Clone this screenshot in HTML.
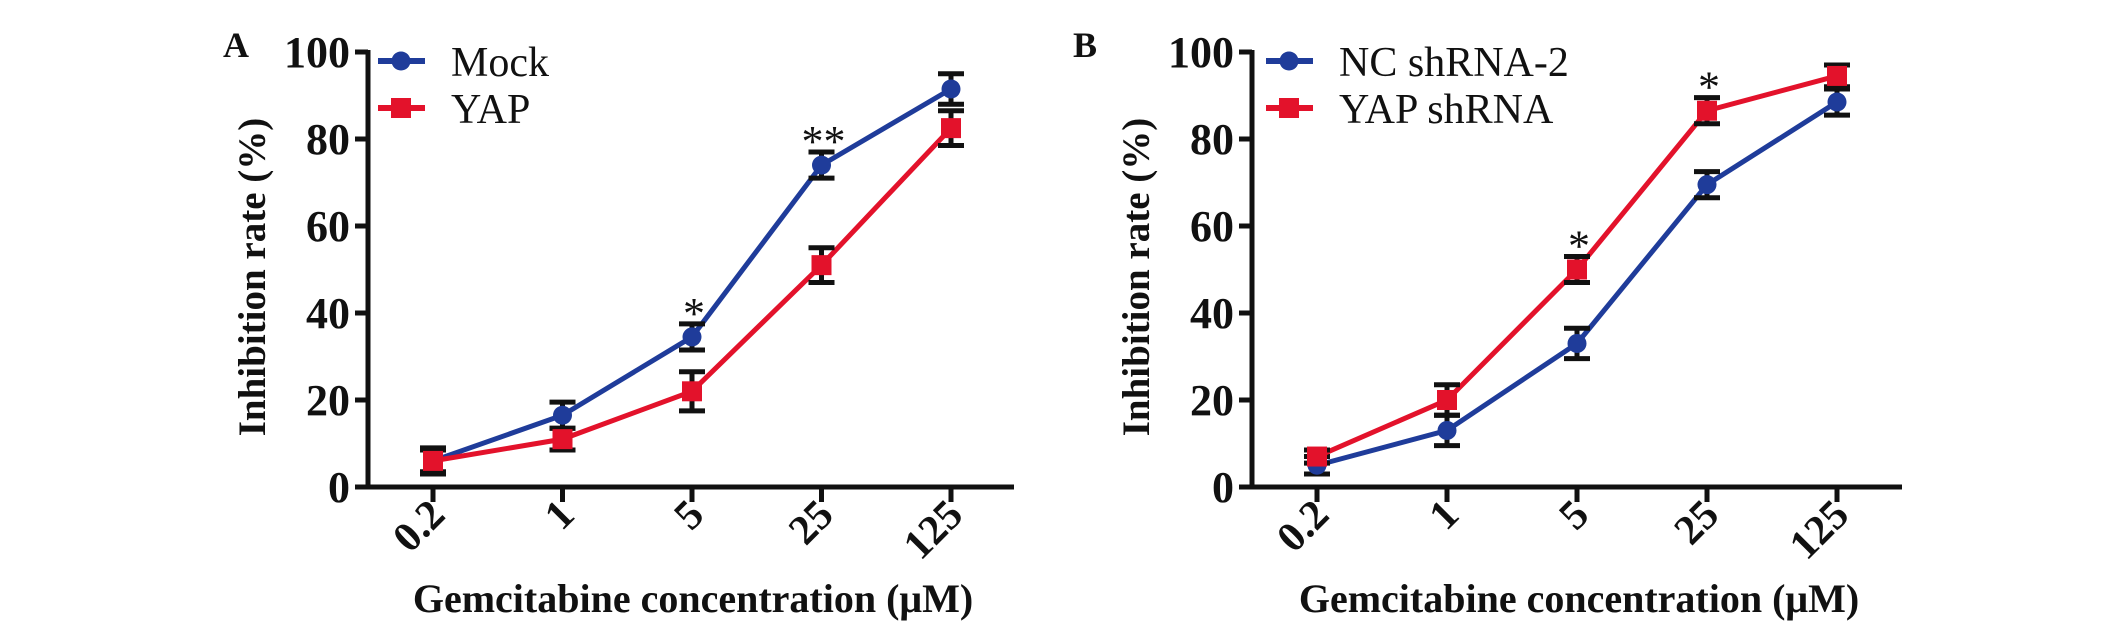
<!DOCTYPE html>
<html><head><meta charset="utf-8"><style>
body{margin:0;background:#fff;width:2126px;height:633px;overflow:hidden}
svg text{font-family:"Liberation Serif",serif;fill:#111}
</style></head><body>
<svg id="chart" width="2126" height="633"></svg>
<script>
const categories=["0.2","1","5","25","125"];
const yTicks=[0,20,40,60,80,100];
const mockVals=[6,16.5,34.5,74,91.5];
const mockErr=[3,3,3,3,3.5];
const yapVals=[6,11,22,51,82.5];
const yapErr=[2.5,2.5,4.5,4,4];
const ncVals=[5,13,33,69.5,88.5];
const ncErr=[2,3.5,3.5,3,3];
const shVals=[7,20,50,86.5,94.5];
const shErr=[1.5,3.5,3,3,2.5];
const sigA=[{i:2,s:"*",ser:"a"},{i:3,s:"**",ser:"a"}];
const sigB=[{i:2,s:"*",ser:"b"},{i:3,s:"*",ser:"b"}];
const BLUE="#1f3c9a",RED="#e3122b";
const svg=document.getElementById('chart');
const NS="http://www.w3.org/2000/svg";
function mk(t,a,p){const e=document.createElementNS(NS,t);for(const k in a)e.setAttribute(k,a[k]);(p||svg).appendChild(e);return e;}
function panel(o){
 const g=mk('g',{});
 
 
 const y0=487,y1=52;
 const Y=v=>y0-(v/100)*(y0-y1);
 const X=i=>o.x0+i*o.dx;
 const ax=mk('path',{d:`M${o.ax} ${y1-2}V${y0}H${o.axEnd}`,stroke:'#111','stroke-width':5,fill:'none'},g);
 
 yTicks.forEach(v=>{
  mk('line',{x1:o.ax-13,x2:o.ax,y1:Y(v),y2:Y(v),stroke:'#111','stroke-width':5},g);
  const t=mk('text',{x:o.ax-18,y:Y(v)+15,'text-anchor':'end','font-size':44,'font-weight':'bold'},g);
  t.textContent=v;
  
 });
 categories.forEach((c,i)=>{
  mk('line',{x1:X(i),x2:X(i),y1:y0,y2:y0+15,stroke:'#111','stroke-width':5},g);
  const t=mk('text',{x:X(i)+14,y:517,'text-anchor':'end','font-size':42,'font-weight':'bold',transform:`rotate(-45 ${X(i)+14} 517)`},g);
  t.textContent=c;
  
 });
 const yt=mk('text',{x:0,y:0,'text-anchor':'middle','font-size':39,'font-weight':'bold',transform:`translate(${o.ax-103} 277) rotate(-90)`},g);
 yt.textContent="Inhibition rate (%)";
 
 const xt=mk('text',{x:(o.ax+o.axEnd)/2+2,y:612,'text-anchor':'middle','font-size':40,'font-weight':'bold'},g);
 xt.textContent="Gemcitabine concentration (μM)";
 
 const pl=mk('text',{x:o.lab,y:57,'font-size':36,'font-weight':'bold'},g);
 pl.textContent=o.label;
 
 o.series.forEach((s,si)=>{
  const sg=mk('g',{},g);
  
  mk('polyline',{points:s.v.map((v,i)=>X(i)+','+Y(v)).join(' '),fill:'none',stroke:s.c,'stroke-width':5},sg);
  s.v.forEach((v,i)=>{
   const e=s.e[i];
   mk('path',{d:`M${X(i)} ${Y(v+e)}V${Y(v-e)}M${X(i)-13} ${Y(v+e)}h26M${X(i)-13} ${Y(v-e)}h26`,stroke:'#111','stroke-width':5,fill:'none'},sg);
   let m;
   if(s.shape==='c')m=mk('circle',{cx:X(i),cy:Y(v),r:9.5,fill:s.c},sg);
   else m=mk('rect',{x:X(i)-10,y:Y(v)-10,width:20,height:20,fill:s.c},sg);
   
   
  });
  const ly=61+si*47;
  mk('line',{x1:o.lx,x2:o.lx+47,y1:ly,y2:ly,stroke:s.c,'stroke-width':6},g);
  if(s.shape==='c')mk('circle',{cx:o.lx+23,cy:ly,r:9.5,fill:s.c},g);
  else mk('rect',{x:o.lx+13,y:ly-10,width:20,height:20,fill:s.c},g);
  const lt=mk('text',{x:o.lx+73,y:ly+15,'font-size':42},g);
  lt.textContent=s.name;
  
 });
 o.sig.forEach(q=>{
  const s=o.series[q.ser==='a'?0:1];
  const t=mk('text',{x:X(q.i)+2,y:Y(s.v[q.i]+s.e[q.i])+4,'text-anchor':'middle','font-size':44},g);
  t.textContent=q.s;
  
 });
}
panel({name:'panel-a',label:'A',lab:223,ax:368,axEnd:1014,x0:433,dx:129.5,lx:378,sig:sigA,series:[
 {id:'mock',name:'Mock',v:mockVals,e:mockErr,c:BLUE,shape:'c'},
 {id:'yap',name:'YAP',v:yapVals,e:yapErr,c:RED,shape:'s'}]});
panel({name:'panel-b',label:'B',lab:1073,ax:1252,axEnd:1902,x0:1317,dx:130,lx:1266,sig:sigB,series:[
 {id:'nc-shrna-2',name:'NC shRNA-2',v:ncVals,e:ncErr,c:BLUE,shape:'c'},
 {id:'yap-shrna',name:'YAP shRNA',v:shVals,e:shErr,c:RED,shape:'s'}]});
</script>
</body></html>
